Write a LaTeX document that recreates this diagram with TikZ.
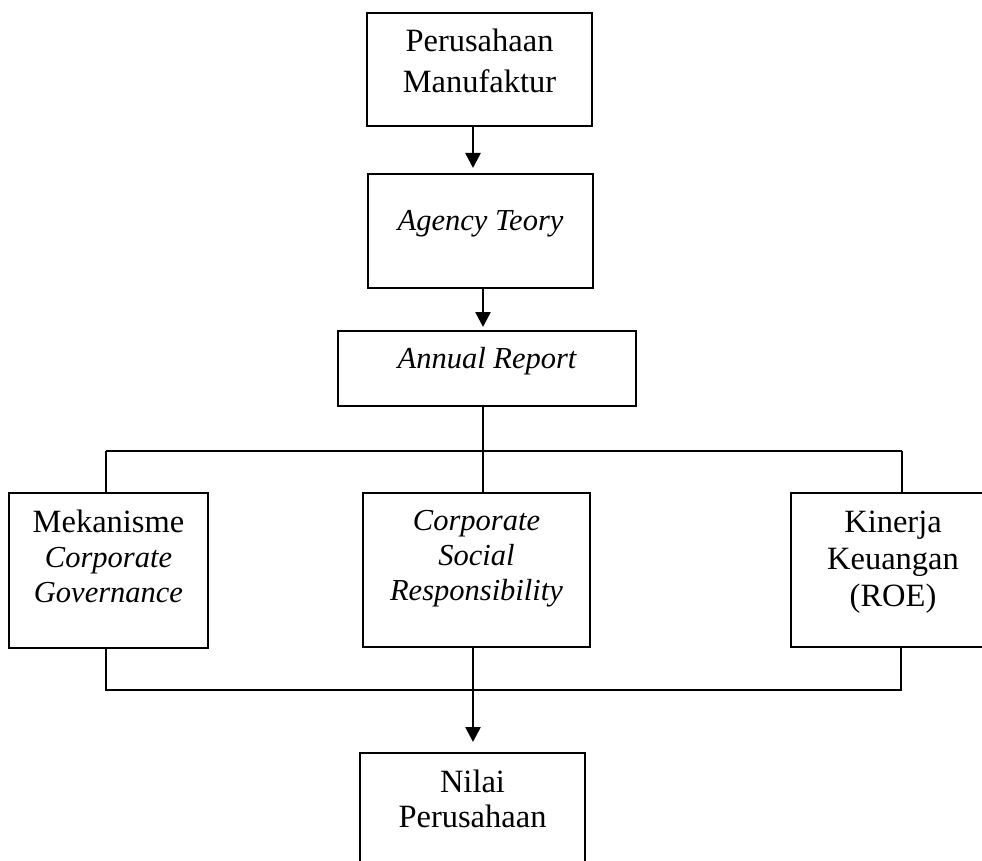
\documentclass[tikz,border=0pt]{standalone}
\usepackage{fontspec}
\setmainfont{Liberation Serif}
\usetikzlibrary{arrows.meta}
\newcommand\emtxt[1]{{\fontsize{30.5}{35}\selectfont\itshape #1}}
\begin{document}
\begin{tikzpicture}[x=1pt,y=-1pt,
  box/.style={draw, line width=2pt, inner sep=0pt},
  lbl/.style={inner sep=0pt, align=center, anchor=base, font=\fontsize{32.5}{35}\selectfont},
  wire/.style={line width=2pt},
  arr/.style={line width=2.6pt, -{Triangle[length=15pt,width=15pt]}}]
\useasboundingbox (0,0) rectangle (982,861);
\clip (0,0) rectangle (982,861);
% boxes
\node[box, minimum width=225pt, minimum height=113pt] (b1) at (479.5,69.5) {};
\node[box, minimum width=225pt, minimum height=114pt] (b2) at (480.5,231) {};
\node[box, minimum width=298pt, minimum height=75pt] (b3) at (487,368.5) {};
\node[box, minimum width=199pt, minimum height=155pt] (b4) at (108.5,570.5) {};
\node[box, minimum width=227pt, minimum height=154pt] (b5) at (476.5,570) {};
\node[box, minimum width=220pt, minimum height=154pt] (b6) at (901,570) {};
\node[box, minimum width=225pt, minimum height=160pt] (b7) at (472.5,833) {};
% labels (base = baseline of last line)
\node[lbl, font=\fontsize{32.5}{41}\selectfont] (t1) at (479.5,93) {Perusahaan\\Manufaktur};
\node[lbl] (t2) at (480.5,230) {\emtxt{Agency Teory}};
\node[lbl] (t3) at (487,368) {\emtxt{Annual Report}};
\node[lbl] (t4) at (108.5,602) {Mekanisme\\\emtxt{Corporate}\\\emtxt{Governance}};
\node[lbl] (t5) at (476.5,600) {\emtxt{Corporate}\\\emtxt{Social}\\\emtxt{Responsibility}};
\node[lbl, font=\fontsize{32.5}{37}\selectfont] (t6) at (893,606) {Kinerja\\Keuangan\\(ROE)};
\node[lbl] (t7) at (472.5,827) {Nilai\\Perusahaan};
% connectors
\draw[arr, shorten >=5pt] ([xshift=-6.5pt]b1.south) -- ([xshift=-6.5pt]b1.south |- b2.north);
\draw[arr, shorten >=3pt] ([xshift=2.5pt]b2.south) -- ([xshift=2.5pt]b2.south |- b3.north);
\coordinate (busT) at (483,451);
\coordinate (busB) at (473,690);
\draw[wire] ([xshift=-4pt]b3.south) -- ([xshift=-4pt]b3.south |- busT);
\draw[wire] ([xshift=-3pt]b4.north |- busT) -- ([xshift=1pt]b6.north |- busT);
\draw[wire] ([xshift=-3pt]b4.north |- busT) -- ([xshift=-3pt]b4.north);
\draw[wire] ([xshift=6.5pt]b5.north |- busT) -- ([xshift=6.5pt]b5.north);
\draw[wire] ([xshift=1pt]b6.north |- busT) -- ([xshift=1pt]b6.north);
\draw[wire] ([xshift=-2.5pt]b4.south) -- ([xshift=-2.5pt]b4.south |- busB) -- (b6.south |- busB) -- (b6.south);
\draw[arr, shorten >=10pt] ([xshift=-3.5pt]b5.south) -- ([xshift=-3.5pt]b5.south |- b7.north);
\end{tikzpicture}
\end{document}
